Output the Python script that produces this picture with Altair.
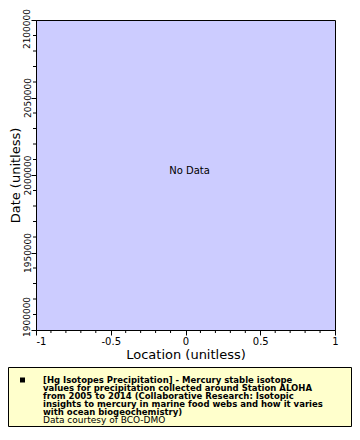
import altair as alt
import pandas as pd

# ---- data ----
x_domain = [-1, 1]
y_domain = [1900000, 2100000]
x_major = [-1, -0.5, 0, 0.5, 1]
x_minor = [-0.9, -0.8, -0.7, -0.6, -0.4, -0.3, -0.2, -0.1,
           0.1, 0.2, 0.3, 0.4, 0.6, 0.7, 0.8, 0.9]
y_major = [1900000, 1950000, 2000000, 2050000, 2100000]
y_minor = [1910000, 1920000, 1930000, 1940000,
           1960000, 1970000, 1980000, 1990000,
           2010000, 2020000, 2030000, 2040000,
           2060000, 2070000, 2080000, 2090000]
y_first = [1900000]          # lowest y tick, labelled separately (shifted like the original)
y_last = [2100000]           # highest y tick, labelled separately (kept inside the page)
message = ["No Data"]
legend_lines = [
    "[Hg Isotopes Precipitation] - Mercury stable isotope",
    "values for precipitation collected around Station ALOHA",
    "from 2005 to 2014 (Collaborative Research: Isotopic",
    "insights to mercury in marine food webs and how it varies",
    "with ocean biogeochemistry)",
]
credit = "Data courtesy of BCO-DMO"

W, H = 299, 310
FONT = "DejaVu Sans"
YLAB = 9

xaxis = alt.Axis(
    values=x_major, title="Location (unitless)",
    labelExpr="toString(datum.value)",
    labelAlign=alt.condition("datum.value == -1", alt.value("left"), alt.value("center")),
    labelBaseline="top", labelPadding=1, tickSize=5,
    labelFontSize=10, titleFontSize=13,
    titleX=W / 2, titleY=28, titleBaseline="alphabetic", titleAlign="center",
)
yaxis = alt.Axis(
    values=y_major, title="Date (unitless)",
    labelExpr="(datum.value == 1900000 || datum.value == 2100000) ? '' : toString(datum.value)",
    labelAngle=270, labelAlign="center",
    labelBaseline="alphabetic", labelPadding=1, tickSize=5,
    labelFontSize=YLAB, titleFontSize=13, titleAngle=270,
    titleX=-17, titleY=H / 2, titleBaseline="alphabetic", titleAlign="center",
)
X = alt.X("x:Q", scale=alt.Scale(domain=x_domain, nice=False, zero=False), axis=xaxis)
Y = alt.Y("y:Q", scale=alt.Scale(domain=y_domain, nice=False, zero=False), axis=yaxis)

center_df = pd.DataFrame({"x": [0], "y": [2000000], "t": message})
no_data = alt.Chart(center_df).mark_text(
    fontSize=10, font=FONT, color="black", dx=4, dy=-4
).encode(x=X, y=Y, text="t:N")

first_df = pd.DataFrame({"y": y_first, "t": [str(v) for v in y_first]})
first_label = alt.Chart(first_df).mark_text(
    fontSize=YLAB, font=FONT, color="black", angle=270, align="left",
    baseline="alphabetic", dx=-7
).encode(y=Y, x=alt.value(-6), text="t:N")

last_df = pd.DataFrame({"y": y_last, "t": [str(v) for v in y_last]})
last_label = alt.Chart(last_df).mark_text(
    fontSize=YLAB, font=FONT, color="black", angle=270, align="right",
    baseline="alphabetic", dx=11
).encode(y=Y, x=alt.value(-6), text="t:N")

xminor = alt.Chart(pd.DataFrame({"x": x_minor})).mark_rule(
    color="black", strokeWidth=1
).encode(x=X, y=alt.value(H), y2=alt.value(H + 3))

yminor = alt.Chart(pd.DataFrame({"y": y_minor})).mark_rule(
    color="black", strokeWidth=1
).encode(y=Y, x=alt.value(-3), x2=alt.value(0))

one = alt.Data(values=[{"k": 1}])
box = alt.Chart(one).mark_rect(
    fill="#ffffcc", stroke="black", strokeWidth=1
).encode(x=alt.value(-27.5), x2=alt.value(315.5), y=alt.value(347.5), y2=alt.value(406.5))

square = alt.Chart(one).mark_square(
    color="black", size=25, opacity=1
).encode(x=alt.value(-13.5), y=alt.value(360))

bold_text = alt.Chart(one).mark_text(
    font=FONT, fontSize=8.5, fontWeight="bold", align="left",
    baseline="alphabetic", lineHeight=8, color="black"
).encode(x=alt.value(7), y=alt.value(362.5), text=alt.value(legend_lines))

credit_text = alt.Chart(one).mark_text(
    font=FONT, fontSize=9, align="left", baseline="alphabetic", color="black"
).encode(x=alt.value(7), y=alt.value(403), text=alt.value(credit))

chart = alt.layer(
    no_data, first_label, last_label, xminor, yminor, box, square, bold_text, credit_text
).properties(
    width=W, height=H,
    autosize=alt.AutoSizeParams(type="none"),
    padding={"left": 28, "top": 12, "right": 17, "bottom": 97},
).configure_view(
    fill="#ccccff", stroke="black", strokeWidth=1
).configure_axis(
    grid=False, domainColor="black", tickColor="black", labelColor="black",
    titleColor="black", labelFont=FONT, titleFont=FONT, titleFontWeight="normal",
)

chart.save("out.html", embed_options={"renderer": "svg", "actions": False})
